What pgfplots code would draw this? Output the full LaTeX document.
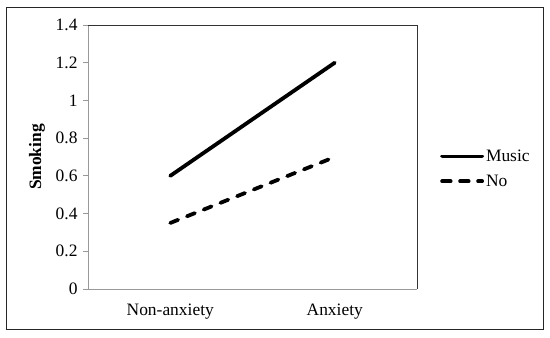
\documentclass[border=0pt]{standalone}
\usepackage{fontspec}
\setmainfont{Liberation Serif}
\usepackage{pgfplots}
\pgfplotsset{compat=1.18}
\begin{document}
\begin{tikzpicture}
\fill[white] (-88bp,-49bp) rectangle (462bp,289bp);
\draw[black!85, line width=1bp] (-81bp,-40bp) rectangle (455bp,281bp);
\begin{axis}[
  at={(0,0)}, anchor=south west,
  scale only axis, width=329bp, height=264bp,
  xmin=-0.5, xmax=1.5, ymin=0, ymax=1.4,
  xtick={0,1}, xticklabels={Non-anxiety, Anxiety},
  ytick={0,0.2,...,1.4},
  yticklabels={0,0.2,0.4,0.6,0.8,1,1.2,1.4},
  ytick pos=left,
  axis line style={draw=none},
  tick align=outside,
  x tick style={draw=none},
  y tick style={gray!80, line width=0.8bp},
  major tick length=5bp,
  ticklabel style={font=\fontsize{17.5}{20}\selectfont},
  xticklabel style={yshift=-6bp},
  yticklabel style={xshift=-2bp},
  ylabel={\textbf{Smoking}},
  ylabel style={at={(axis description cs:-0.155,0.5)}, anchor=center, font=\fontsize{17.5}{20}\selectfont},
  legend style={at={(rel axis cs:1.07,0.455)}, anchor=west, draw=none, fill=none,
    font=\fontsize{17.5}{20}\selectfont, row sep=8bp, inner sep=0pt,
    /tikz/every even column/.append style={column sep=1bp}},
  legend cell align=left,
  legend image code/.code={\draw[#1] (1bp,0bp) -- (41bp,0bp);},
  clip=false,
]
\draw[gray!80, line width=0.8bp] (rel axis cs:0,1) -- (rel axis cs:0,0) -- (rel axis cs:1,0);
\draw[black!80, line width=0.8bp] (rel axis cs:0,1) -- (rel axis cs:1,1) -- (rel axis cs:1,0);
\addplot[black, line width=3.8bp, line cap=round] coordinates {(0,0.6) (1,1.2)};
\addlegendentry{Music}
\addplot[black, line width=3.8bp, line cap=round, dash pattern=on 8.5bp off 9.5bp] coordinates {(0,0.35) (1,0.7)};
\addlegendentry{No}
\end{axis}
\end{tikzpicture}
\end{document}
